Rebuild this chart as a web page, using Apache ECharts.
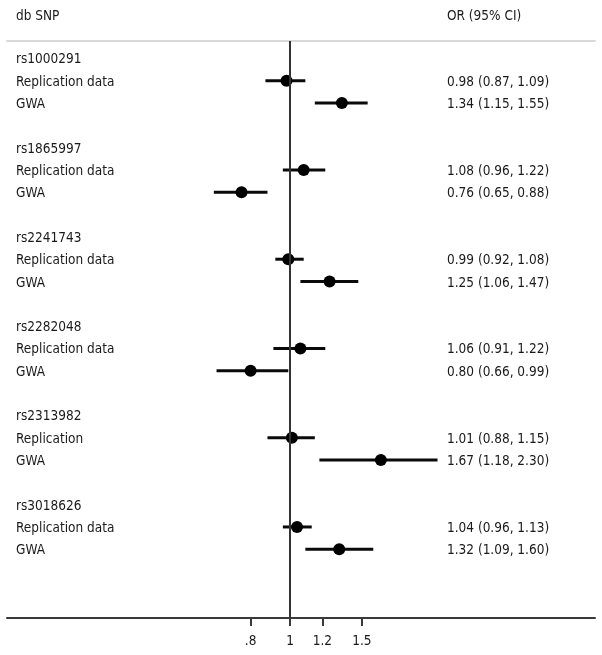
<!DOCTYPE html>
<html>
<head>
<meta charset="utf-8">
<script src="https://cdn.jsdelivr.net/npm/echarts@6/dist/echarts.min.js"></script>
<style>
html,body{margin:0;padding:0;background:#fff;}
#chart{width:602px;height:655px;}
</style>
</head>
<body>
<div id="chart"></div>
<script>
// ---- data ----
const snps = ['rs1000291', 'rs1865997', 'rs2241743', 'rs2282048', 'rs2313982', 'rs3018626'];
const repLabels = ['Replication data', 'Replication data', 'Replication data', 'Replication data', 'Replication', 'Replication data'];
const gwaLabel = 'GWA';
const repOR = [0.98, 1.08, 0.99, 1.06, 1.01, 1.04];
const repLo = [0.87, 0.96, 0.92, 0.91, 0.88, 0.96];
const repHi = [1.09, 1.22, 1.08, 1.22, 1.15, 1.13];
const gwaOR = [1.34, 0.76, 1.25, 0.80, 1.67, 1.32];
const gwaLo = [1.15, 0.65, 1.06, 0.66, 1.18, 1.09];
const gwaHi = [1.55, 0.88, 1.47, 0.99, 2.30, 1.60];
const tickValues = [0.8, 1, 1.2, 1.5];
const tickLabels = ['.8', '1', '1.2', '1.5'];
const axisMinOR = 0.202;
const axisMaxOR = 5.6;
const refOR = 1;

// ---- build ----
const FONT = '"DejaVu Sans Condensed", "DejaVu Sans", sans-serif';
const ln = Math.log;
const xMin = ln(axisMinOR), xMax = ln(axisMaxOR);
const fmt = v => v.toFixed(2);

const whiskers = [], dots = [], leftText = [], rightText = [];
snps.forEach((s, g) => {
  const r0 = 4 * g;
  leftText.push([xMin, r0, s]);
  leftText.push([xMin, r0 + 1, repLabels[g]]);
  leftText.push([xMin, r0 + 2, gwaLabel]);
  whiskers.push([ln(repLo[g]), ln(repHi[g]), r0 + 1]);
  whiskers.push([ln(gwaLo[g]), ln(gwaHi[g]), r0 + 2]);
  dots.push([ln(repOR[g]), r0 + 1]);
  dots.push([ln(gwaOR[g]), r0 + 2]);
  rightText.push([xMin, r0 + 1, `${fmt(repOR[g])} (${fmt(repLo[g])}, ${fmt(repHi[g])})`]);
  rightText.push([xMin, r0 + 2, `${fmt(gwaOR[g])} (${fmt(gwaLo[g])}, ${fmt(gwaHi[g])})`]);
});

const tickLn = tickValues.map(ln);
const TEXT = '#1a1a1a';
const FS = 13.5;
const chart = echarts.init(document.getElementById('chart'), null, {renderer: 'canvas'});
chart.setOption({
  animation: false,
  backgroundColor: '#fff',
  grid: {left: 7, right: 7, top: 41, bottom: 37},
  graphic: [
    {type: 'text', left: 16, top: 9, style: {text: 'db SNP', font: FS + 'px ' + FONT, fill: TEXT}},
    {type: 'text', left: 447, top: 9, style: {text: 'OR (95% CI)', font: FS + 'px ' + FONT, fill: TEXT}}
  ],
  xAxis: [
    {
      type: 'value', min: xMin, max: xMax, position: 'bottom',
      splitLine: {show: false},
      axisLine: {show: true, onZero: false, lineStyle: {color: '#3a3a3a', width: 2}},
      axisTick: {show: true, customValues: tickLn, length: 8, lineStyle: {color: '#3a3a3a', width: 2}},
      axisLabel: {
        show: true, customValues: tickLn, margin: 16, color: TEXT,
        fontFamily: FONT, fontSize: FS,
        formatter: v => {
          let best = 0;
          tickLn.forEach((t, i) => { if (Math.abs(t - v) < Math.abs(tickLn[best] - v)) best = i; });
          return tickLabels[best];
        }
      }
    },
    {
      type: 'value', min: xMin, max: xMax, position: 'top',
      splitLine: {show: false},
      axisLine: {show: true, onZero: false, lineStyle: {color: '#d9d9d9', width: 2}},
      axisTick: {show: false}, axisLabel: {show: false}
    }
  ],
  yAxis: {type: 'value', inverse: true, min: -0.78, max: 25.08, show: false},
  series: [
    {
      type: 'custom', xAxisIndex: 0,
      data: whiskers,
      encode: {x: [0, 1], y: 2},
      renderItem: (params, api) => {
        const a = api.coord([api.value(0), api.value(2)]);
        const b = api.coord([api.value(1), api.value(2)]);
        return {type: 'line', shape: {x1: a[0], y1: a[1], x2: b[0], y2: b[1]}, style: {stroke: '#0a0a0a', lineWidth: 3}};
      },
      z: 3
    },
    {
      type: 'scatter', data: dots, symbol: 'circle', symbolSize: 12,
      itemStyle: {color: '#000', opacity: 1}, z: 4,
      markLine: {
        silent: true, symbol: ['none', 'none'], label: {show: false},
        lineStyle: {color: '#333', width: 2, type: 'solid'},
        data: [{xAxis: ln(refOR)}]
      }
    },
    {
      type: 'scatter', data: leftText, symbolSize: 0, clip: false,
      itemStyle: {opacity: 1},
      label: {show: true, position: 'right', distance: 9, offset: [0, 1.5], color: TEXT,
        fontFamily: FONT, fontSize: FS, formatter: p => p.value[2]}
    },
    {
      type: 'scatter', data: rightText, symbolSize: 0, clip: false,
      itemStyle: {opacity: 1},
      label: {show: true, position: 'right', distance: 440, offset: [0, 1.5], color: TEXT,
        fontFamily: FONT, fontSize: FS, formatter: p => p.value[2]}
    }
  ]
});
</script>
</body>
</html>
